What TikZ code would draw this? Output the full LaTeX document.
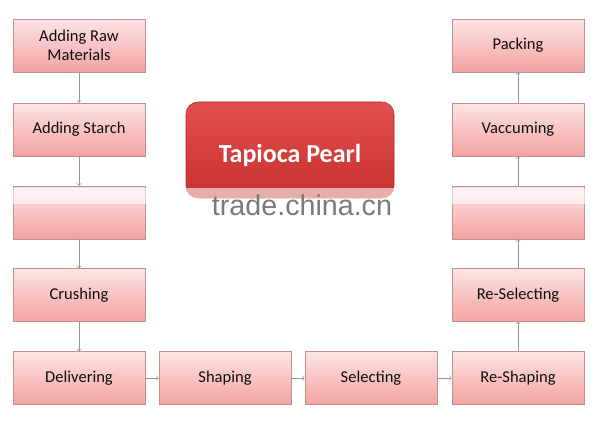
\documentclass[tikz,border=0pt]{standalone}
\usepackage{fontspec}
\setmainfont{Carlito}
\newfontfamily\markfont{Liberation Sans}
\usetikzlibrary{shadows}
\definecolor{boxtop}{HTML}{FCE4E4}
\definecolor{boxbot}{HTML}{F4A2A2}
\definecolor{boxline}{HTML}{C39090}
\definecolor{linkgray}{HTML}{8C96A2}
\definecolor{pearltop}{HTML}{E2504E}
\definecolor{pearlbot}{HTML}{C7302F}
\definecolor{pearlline}{HTML}{A82A2A}
\begin{document}
\begin{tikzpicture}[x=0.75pt, y=-0.75pt,
  procbox/.style={rectangle, draw=boxline, top color=boxtop, bottom color=boxbot,
    minimum width=99pt, minimum height=39.5pt, inner sep=2pt, align=center,
    text=black!95, font=\fontsize{12.4}{13.8}\selectfont,
    drop shadow={opacity=0.12, shadow xshift=0.8pt, shadow yshift=-0.8pt}},
  link/.style={draw=linkgray, line width=0.5pt, ->}]
\useasboundingbox (0,0) rectangle (600,428);
\fill[white] (0,0) rectangle (600,428);
% left column
\node[procbox] (sid0) at (79,45.5){Adding Raw\\Materials};
\node[procbox] (sid1) at (79,129.5){Adding Starch};
\node[procbox] (sid2) at (79,212.5){};
\node[procbox] (sid3) at (79,295){Crushing};
\node[procbox] (sid4) at (79,378){Delivering};
% bottom row
\node[procbox] (sid5) at (225,378){Shaping};
\node[procbox] (sid6) at (371,378){Selecting};
\node[procbox] (sid7) at (518,378){Re-Shaping};
% right column
\node[procbox] (sid8) at (518,295){Re-Selecting};
\node[procbox] (sid9) at (518,212.5){};
\node[procbox] (sid10) at (518,129.5){Vaccuming};
\node[procbox] (sid11) at (518,45.5){Packing};
\draw[link](sid0) -- (sid1);
\draw[link](sid1) -- (sid2);
\draw[link](sid2) -- (sid3);
\draw[link](sid3) -- (sid4);
\draw[link](sid4) -- (sid5);
\draw[link](sid5) -- (sid6);
\draw[link](sid6) -- (sid7);
\draw[link](sid7) -- (sid8);
\draw[link](sid8) -- (sid9);
\draw[link](sid9) -- (sid10);
\draw[link](sid10) -- (sid11);
% title
\node[rectangle, rounded corners=9pt, draw=pearlline, top color=pearltop, bottom color=pearlbot,
  minimum width=156pt, minimum height=72pt] (title) at (290,150){};
\node[text=white, font=\fontsize{19.5}{21}\selectfont\bfseries] (titletext) at (290,155){Tapioca Pearl};
% watermark band
\fill[white, opacity=0.6] (0,188) rectangle (600,204);
\node[text=black!52, font=\markfont\fontsize{21.5}{23}\selectfont, inner sep=0pt] (mark) at (302,205.5){trade.china.cn};
\end{tikzpicture}
\end{document}
